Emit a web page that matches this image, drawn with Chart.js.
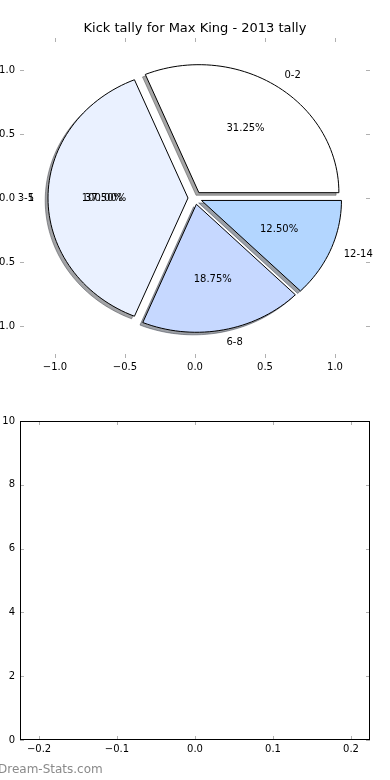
<!DOCTYPE html>
<html>
<head>
<meta charset="utf-8">
<script src="https://cdn.jsdelivr.net/npm/chart.js@4.4.1/dist/chart.umd.min.js"></script>
<style>
    html, body { margin: 0; padding: 0; background: #fff; width: 390px; height: 780px; overflow: hidden; }
    #wrap { position: relative; width: 390px; height: 780px; }
    canvas { position: absolute; left: 0; }
    #grafico-pizza { top: 0; }
    #grafico-vazio { top: 390px; }
    #marca { position: absolute; left: -2px; top: 762px; font: 12px 'DejaVu Sans'; color: #8a8a8a; white-space: nowrap; }
</style>
</head>
<body>
<div id="wrap">
    <canvas id="grafico-pizza" width="390" height="390"></canvas>
    <canvas id="grafico-vazio" width="390" height="390"></canvas>
    <div id="marca">Dream-Stats.com</div>
</div>
<script>
// dados
var titulo     = 'Kick tally for Max King - 2013 tally';
var faixas     = ['0-2', '3-5', '6-8', '12-14'];
var chutes     = [10, 12, 6, 4];
var cores      = ['#ffffff', '#eaf1ff', '#c6d8ff', '#b3d6ff'];
// fatia unica sobreposta que aparece no original (texto embolado a esquerda)
var faixasExtra = ['1'];
var chutesExtra = [32];
var ticksPizza  = [-1, -0.5, 0, 0.5, 1];
var ticksVazioX = [-0.2, -0.1, 0, 0.1, 0.2];
var ticksVazioY = [0, 2, 4, 6, 8, 10];

(function () {
    'use strict';

    Chart.defaults.font.family = "'DejaVu Sans'";
    Chart.defaults.font.size = 10;
    Chart.defaults.color = '#000';

    function fmt1(v) { return v.toFixed(1).replace('-', '\u2212'); }

    function sombra(hex) {
        var r = parseInt(hex.substr(1, 2), 16) * 0.3;
        var g = parseInt(hex.substr(3, 2), 16) * 0.3;
        var b = parseInt(hex.substr(5, 2), 16) * 0.3;
        return 'rgba(' + r + ',' + g + ',' + b + ',0.5)';
    }

    function montaFatias(valores, rotulos, explode) {
        var total = valores.reduce(function (a, b) { return a + b; }, 0);
        var ang = 0;
        return valores.map(function (v, i) {
            var t1 = ang, t2 = ang + 360 * v / total;
            ang = t2;
            var tm = (t1 + t2) / 2 * Math.PI / 180;
            return {
                t1: t1, t2: t2, tm: tm,
                ox: explode * Math.cos(tm), oy: explode * Math.sin(tm),
                cor: cores[i], rotulo: rotulos[i],
                pct: (100 * v / total).toFixed(2) + '%'
            };
        });
    }

    var marcasInternas = {
        id: 'marcasInternas',
        afterDraw: function (chart, args, opts) {
            var ctx = chart.ctx, a = chart.chartArea;
            var sx = chart.scales.x, sy = chart.scales.y;
            ctx.save();
            ctx.strokeStyle = '#b0b0b0';
            ctx.lineWidth = 1;
            ctx.beginPath();
            sx.ticks.forEach(function (t) {
                var p = Math.round(sx.getPixelForValue(t.value)) + 0.5;
                ctx.moveTo(p, a.top); ctx.lineTo(p, a.top + 4);
                ctx.moveTo(p, a.bottom); ctx.lineTo(p, a.bottom - 4);
            });
            sy.ticks.forEach(function (t) {
                var p = Math.round(sy.getPixelForValue(t.value)) + 0.5;
                ctx.moveTo(a.left, p); ctx.lineTo(a.left + 4, p);
                ctx.moveTo(a.right, p); ctx.lineTo(a.right - 4, p);
            });
            ctx.stroke();
            if (opts.moldura) {
                ctx.strokeStyle = '#000';
                ctx.strokeRect(Math.round(a.left) + 0.5, Math.round(a.top) + 0.5,
                    Math.round(a.right - a.left) - 1, Math.round(a.bottom - a.top) - 1);
            }
            ctx.restore();
        }
    };

    var pizza = {
        id: 'pizza',
        afterDatasetsDraw: function (chart) {
            var ctx = chart.ctx, sx = chart.scales.x, sy = chart.scales.y;
            var fatias = montaFatias(chutes, faixas, 0.05);
            var extra = montaFatias(chutesExtra, faixasExtra, 0.05);
            function px(v) { return sx.getPixelForValue(v); }
            function py(v) { return sy.getPixelForValue(v); }

            function caminho(f, dx, dy) {
                ctx.beginPath();
                ctx.moveTo(px(f.ox + dx), py(f.oy + dy));
                var n = Math.max(8, Math.ceil((f.t2 - f.t1) / 2));
                for (var k = 0; k <= n; k++) {
                    var ang = (f.t1 + (f.t2 - f.t1) * k / n) * Math.PI / 180;
                    ctx.lineTo(px(f.ox + dx + Math.cos(ang)), py(f.oy + dy + Math.sin(ang)));
                }
                ctx.closePath();
            }

            ctx.save();
            ctx.lineWidth = 1;
            fatias.forEach(function (f) {
                caminho(f, -0.02, -0.02);
                ctx.fillStyle = sombra(f.cor);
                ctx.strokeStyle = sombra(f.cor);
                ctx.fill();
                ctx.stroke();
            });
            fatias.forEach(function (f) {
                caminho(f, 0, 0);
                ctx.fillStyle = f.cor;
                ctx.fill();
                ctx.strokeStyle = '#000';
                ctx.stroke();
            });

            ctx.font = "10px 'DejaVu Sans'";
            ctx.fillStyle = '#000';
            ctx.textBaseline = 'middle';
            fatias.concat(extra).forEach(function (f) {
                var xt = f.ox + 1.1 * Math.cos(f.tm);
                var yt = f.oy + 1.1 * Math.sin(f.tm);
                ctx.textAlign = xt > 0 ? 'left' : 'right';
                ctx.fillText(f.rotulo, px(xt), py(yt));
                ctx.textAlign = 'center';
                ctx.fillText(f.pct, px(f.ox + 0.6 * Math.cos(f.tm)), py(f.oy + 0.6 * Math.sin(f.tm)));
            });
            ctx.restore();
        }
    };

    function eixo(min, max, lista, formato, largura, altura) {
        return {
            type: 'linear',
            min: min,
            max: max,
            grid: { display: false, drawTicks: false },
            border: { display: false },
            afterBuildTicks: function (s) { s.ticks = lista.map(function (v) { return { value: v }; }); },
            afterFit: function (s) {
                if (largura !== null) s.width = largura;
                if (altura !== null) s.height = altura;
            },
            ticks: {
                padding: largura !== null ? 5 : 3,
                maxRotation: 0,
                autoSkip: false,
                callback: function (v) { return formato(v); }
            }
        };
    }

    new Chart(document.getElementById('grafico-pizza'), {
        type: 'scatter',
        data: { datasets: [{ data: [] }] },
        options: {
            responsive: false,
            animation: false,
            layout: { padding: { left: 0, right: 20, top: 0, bottom: 10 } },
            plugins: {
                legend: { display: false },
                tooltip: { enabled: false },
                title: {
                    display: true,
                    fullSize: false,
                    text: titulo,
                    color: '#000',
                    font: { size: 13, weight: 'normal' },
                    padding: { top: 21, bottom: 1.4 }
                },
                marcasInternas: { moldura: false }
            },
            scales: {
                x: eixo(-1.25, 1.25, ticksPizza, fmt1, null, 22),
                y: eixo(-1.25, 1.25, ticksPizza, fmt1, 20, null)
            }
        },
        plugins: [pizza, marcasInternas]
    });

    new Chart(document.getElementById('grafico-vazio'), {
        type: 'scatter',
        data: { datasets: [{ data: [] }] },
        options: {
            responsive: false,
            animation: false,
            layout: { padding: { left: 0, right: 20, top: 31, bottom: 20 } },
            plugins: {
                legend: { display: false },
                tooltip: { enabled: false },
                marcasInternas: { moldura: true }
            },
            scales: {
                x: eixo(-0.2244, 0.2244, ticksVazioX, fmt1, null, 20),
                y: eixo(0, 10, ticksVazioY, function (v) { return String(v); }, 20, null)
            }
        },
        plugins: [marcasInternas]
    });
})();
</script>
</body>
</html>
